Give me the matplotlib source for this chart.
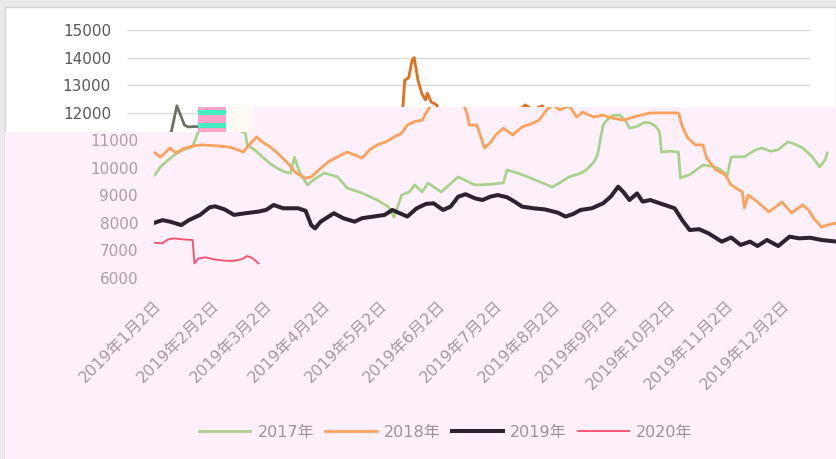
import numpy as np
import matplotlib
matplotlib.use("Agg")
import matplotlib.pyplot as plt
from matplotlib.patches import Polygon, Rectangle
from matplotlib.transforms import ScaledTranslation

plt.rcParams['font.family'] = ['DejaVu Sans', 'Noto Sans CJK SC']

# x values are day offsets from 2019-01-02
days_2017 = [0, 3, 7, 11, 15, 20, 22, 23, 26, 30, 32, 36, 39, 43, 48, 49, 53, 57, 61, 65,
             69, 72, 74, 77, 81, 85, 90, 97, 102, 110, 118, 124, 127, 131, 135, 138, 142, 145, 152, 161,
             170, 178, 185, 187, 193, 198, 204, 211, 216, 220, 226, 229, 233, 235, 238, 240, 243, 247, 250, 252,
             256, 260, 263, 266, 268, 269, 274, 278, 279, 284, 291, 296, 300, 304, 306, 313, 319, 322, 327, 331,
             336, 340, 344, 349, 353, 356, 357]
vals_2017 = [9740, 10040, 10280, 10500, 10650, 10770, 11130, 11300, 12250, 11550, 11480, 11500, 11450, 11400, 11260, 10830, 10650, 10400, 10160, 9980,
             9850, 9800, 10390, 9810, 9375, 9600, 9810, 9670, 9270, 9080, 8830, 8580, 8210, 9010, 9120, 9375, 9120, 9450, 9120, 9670,
             9375, 9400, 9450, 9920, 9800, 9670, 9500, 9300, 9500, 9670, 9800, 9920, 10200, 10460, 11550, 11730, 11900, 11910, 11700, 11440,
             11500, 11650, 11630, 11500, 11300, 10570, 10600, 10570, 9630, 9750, 10100, 10050, 9950, 9740, 10390, 10400, 10650, 10720, 10600, 10650,
             10940, 10850, 10720, 10400, 10030, 10300, 10540]

days_2018 = [0, 3, 8, 11, 16, 21, 25, 32, 40, 47, 50, 54, 57, 61, 65, 70, 75, 80, 83, 88,
             92, 97, 102, 106, 110, 114, 118, 123, 127, 131, 134, 138, 142, 144, 146, 147, 149, 151, 152, 154,
             156, 158, 159, 161, 164, 166, 167, 171, 175, 178, 181, 185, 190, 195, 201, 204, 208, 211, 215, 220,
             224, 227, 233, 238, 243, 249, 254, 258, 263, 266, 278, 280, 283, 287, 291, 293, 298, 303, 306, 312,
             313, 315, 320, 326, 331, 333, 338, 344, 347, 350, 354, 357, 362]
vals_2018 = [10540, 10390, 10720, 10540, 10720, 10800, 10830, 10800, 10750, 10570, 10830, 11120, 10940, 10770, 10540, 10210, 9810, 9620, 9670, 9980,
             10210, 10400, 10570, 10470, 10350, 10650, 10830, 10950, 11120, 11250, 11550, 11680, 11730, 12000, 12200, 13180, 13260, 13910, 14000, 13180,
             12710, 12460, 12710, 12390, 12280, 11900, 11550, 11550, 10720, 10900, 11190, 11440, 11190, 11480, 11630, 11730, 12100, 12280, 12100, 12250,
             11840, 12020, 11840, 11910, 11800, 11730, 11840, 11910, 11990, 11990, 11990, 11500, 11080, 10830, 10830, 10350, 9920, 9740, 9375, 9120,
             8540, 9010, 8760, 8400, 8650, 8760, 8360, 8650, 8470, 8150, 7850, 7920, 8000]

days_2019 = [0, 4, 8, 14, 18, 24, 29, 32, 37, 42, 48, 55, 59, 63, 68, 76, 80, 83, 85, 88,
             95, 100, 106, 110, 116, 122, 126, 130, 134, 139, 144, 148, 153, 157, 161, 165, 170, 174, 178, 182,
             187, 191, 195, 201, 207, 214, 218, 222, 226, 232, 238, 242, 246, 249, 252, 256, 259, 263, 269, 276,
             280, 284, 289, 294, 301, 306, 311, 316, 320, 325, 331, 337, 342, 348, 354, 362]
vals_2019 = [8010, 8100, 8045, 7920, 8100, 8290, 8565, 8600, 8490, 8290, 8350, 8410, 8470, 8650, 8530, 8530, 8440, 7920, 7800, 8045,
             8350, 8170, 8045, 8170, 8230, 8290, 8470, 8350, 8230, 8530, 8690, 8710, 8470, 8590, 8950, 9040, 8890, 8830, 8950, 9010,
             8930, 8770, 8590, 8530, 8490, 8370, 8230, 8320, 8470, 8530, 8710, 8950, 9315, 9100, 8830, 9070, 8770, 8830, 8690, 8530,
             8100, 7740, 7770, 7620, 7320, 7470, 7200, 7320, 7160, 7380, 7160, 7500, 7440, 7460, 7380, 7320]

days_2020 = [0, 4, 7, 10, 15, 20, 21, 23, 27, 31, 37, 42, 46, 49, 52, 55]
vals_2020 = [7280, 7260, 7400, 7440, 7400, 7380, 6530, 6710, 6750, 6680, 6630, 6620, 6680, 6800, 6710, 6530]

series_names = ["2017年", "2018年", "2019年", "2020年"]
xtick_dates = ["2019-%02d-02" % m for m in range(1, 13)]
xtick_labels = ["2019年%d月2日" % m for m in range(1, 13)]
ytick_top = [12000, 13000, 14000, 15000]
ytick_bottom = [6000, 7000, 8000, 9000, 10000, 11000]

W, H = 836, 459


def fpx(x, y):
    # pixel (from top-left) -> figure fraction
    return (x / W, 1 - y / H)


fig = plt.figure(figsize=(W / 100, H / 100), dpi=100, facecolor='#EAEAEA')

# white chart frame and the pink (washed) lower part of the screenshot
fig.add_artist(Rectangle(fpx(5, 459), (W - 5) / W, (H - 7) / H, transform=fig.transFigure,
                         facecolor='white', edgecolor='#D4D4D4', lw=1, zorder=-3))
pink_pts = [fpx(5, 459), fpx(5, 132), fpx(253, 132), fpx(253, 107), fpx(836, 107), fpx(836, 459)]
top_pts = [fpx(0, 0), fpx(836, 0), fpx(836, 107), fpx(253, 107), fpx(253, 132), fpx(0, 132)]
fig.add_artist(Polygon(pink_pts, closed=True, transform=fig.transFigure,
                       facecolor='#FDF0FA', edgecolor='none', zorder=-2))
pink_clip = Polygon(pink_pts, closed=True, transform=fig.transFigure)
top_clip = Polygon(top_pts, closed=True, transform=fig.transFigure)

xlim = (-0.5, 362.2)
ax_b = 1 - 278 / H
ax_h = 248 / H

series = [(days_2017, vals_2017), (days_2018, vals_2018), (days_2019, vals_2019), (days_2020, vals_2020)]
top_colors = ['#6C7166', '#E0701E', '#2D2330', '#FF4D6A']
pink_colors = ['#A9D18E', '#FFA15C', '#2D2330', '#FF4D6A']
widths = [2.0, 2.0, 2.9, 1.3]

# upper copy of the chart (only visible above the pink area)
ax_top = fig.add_axes([127 / W, ax_b, 683 / W, ax_h])
ax_top.set_facecolor('none')
ax_top.set_xlim(xlim)
ax_top.set_ylim(6000, 15000)
for s in ax_top.spines.values():
    s.set_visible(False)
ax_top.set_xticks([])
ax_top.set_yticks(ytick_top)
ax_top.set_yticklabels([str(v) for v in ytick_top])
ax_top.tick_params(axis='y', length=0, pad=11.5, labelsize=11, labelcolor='#595959')
grid = ax_top.hlines(ytick_top, xlim[0], xlim[1], color='#D9D9D9', lw=1)
grid.set_clip_path(top_clip)
for (d, v), c, lw in zip(series, top_colors, widths):
    ln, = ax_top.plot(d, v, color=c, lw=lw, solid_joinstyle='round')
    ln.set_clip_path(top_clip)

# lower, shifted copy of the chart (pink area)
ax = fig.add_axes([154 / W, ax_b, 683 / W, ax_h])
ax.set_facecolor('none')
ax.set_xlim(xlim)
ax.set_ylim(6000, 15000)
for s in ax.spines.values():
    s.set_visible(False)
ax.set_yticks(ytick_bottom)
ax.set_yticklabels([str(v) for v in ytick_bottom])
base = np.datetime64('2019-01-02')
xticks = [int((np.datetime64(t) - base).astype(int)) for t in xtick_dates]
ax.set_xticks(xticks)
ax.set_xticklabels(xtick_labels, rotation=45, ha='right', va='top')
ax.tick_params(axis='y', length=0, pad=11.5, labelsize=11, labelcolor='#AD9AA6')
ax.tick_params(axis='x', length=0, labelsize=11.5, labelcolor='#A897A3')
shift = ScaledTranslation(9 / 100, -15 / 100, fig.dpi_scale_trans)
for lab in ax.get_xticklabels():
    lab.set_transform(lab.get_transform() + shift)

handles = []
for (d, v), c, lw in zip(series, pink_colors, widths):
    ln, = ax.plot(d, v, color=c, lw=lw, solid_joinstyle='round')
    ln.set_clip_path(pink_clip)
    handles.append(ln)

fig.legend(handles, series_names, loc='center', bbox_to_anchor=(446 / W, 1 - 432 / H), ncol=4,
           frameon=False, fontsize=11.5, handlelength=3.2, handletextpad=0.45, columnspacing=0.7,
           labelcolor='#A0909B')

# glitch block between the two copies
fig.add_artist(Rectangle(fpx(198, 132), 55 / W, 25 / H, transform=fig.transFigure,
                         facecolor='#FFFBF3', edgecolor='none', zorder=5))
fig.add_artist(Rectangle(fpx(198, 132), 28 / W, 25 / H, transform=fig.transFigure,
                         facecolor='#FFA3C9', edgecolor='none', zorder=6))
for yb in (115, 128):
    fig.add_artist(Rectangle(fpx(198, yb), 28 / W, 5 / H, transform=fig.transFigure,
                             facecolor='#45EFC2', edgecolor='none', zorder=7))

fig.savefig('out.png', dpi=100)
